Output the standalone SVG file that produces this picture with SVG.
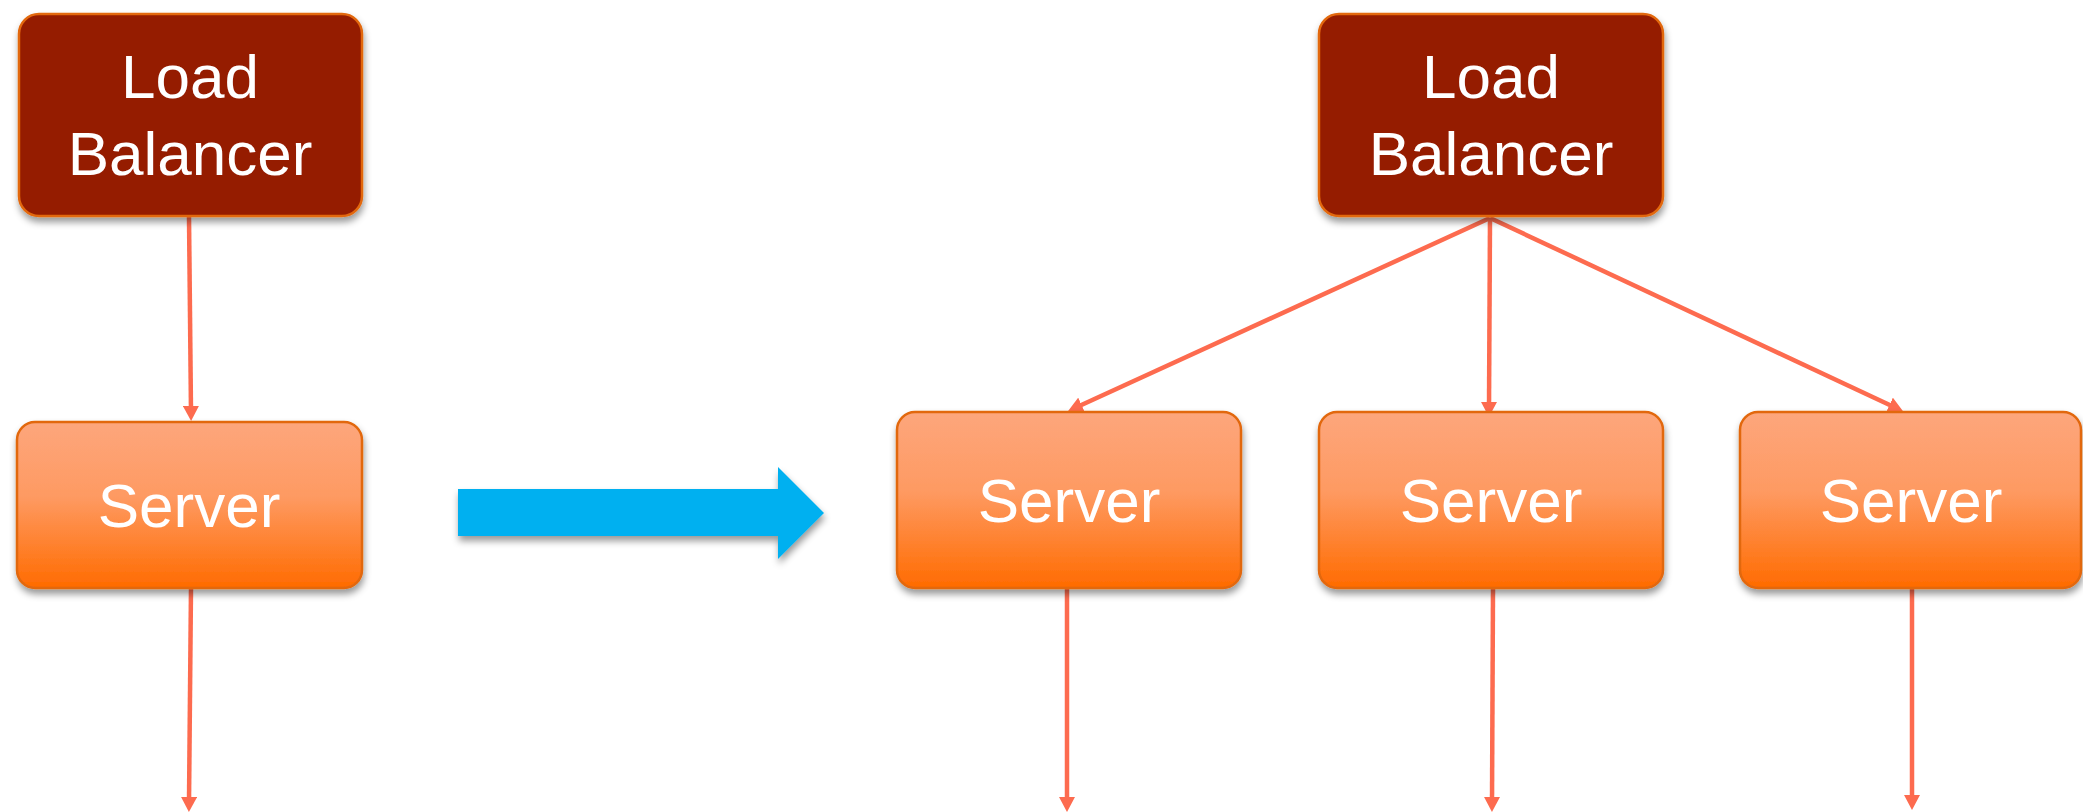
<svg xmlns="http://www.w3.org/2000/svg" width="2083" height="812" viewBox="0 0 2083 812">
  <defs>
    <linearGradient id="srvGrad" x1="0" y1="0" x2="0" y2="1">
      <stop offset="0" stop-color="#fda67c"/>
      <stop offset="0.45" stop-color="#fe9a62"/>
      <stop offset="1" stop-color="#ff6b00"/>
    </linearGradient>
    <filter id="shadow" x="-10%" y="-10%" width="125%" height="135%">
      <feDropShadow dx="1" dy="5" stdDeviation="3.5" flood-color="#000" flood-opacity="0.4"/>
    </filter>
    <marker id="ah" viewBox="0 0 15 16" refX="5" refY="8" markerWidth="15" markerHeight="16" markerUnits="userSpaceOnUse" orient="auto">
      <path d="M0,0 L15,8 L0,16 z" fill="#fd6b4f"/>
    </marker>
    <style>
      .lb { fill: #951c03; stroke: #e2680e; stroke-width: 2.5; }
      .srv { fill: url(#srvGrad); stroke: #e2680e; stroke-width: 2.5; }
      .lbl { font-family: "Liberation Sans", Arial, sans-serif; font-size: 62px; fill: #ffffff; text-anchor: middle; }
      .conn { stroke: #fd6b4f; stroke-width: 4.5; fill: none; marker-end: url(#ah); }
    </style>
  </defs>

  <g id="connectors">
    <line class="conn" x1="189" y1="217" x2="191" y2="411"/>
    <line class="conn" x1="191" y1="588" x2="189" y2="802"/>
    <line class="conn" x1="1490" y1="218" x2="1077" y2="407"/>
    <line class="conn" x1="1490" y1="218" x2="1489" y2="407"/>
    <line class="conn" x1="1490" y1="218" x2="1894" y2="407"/>
    <line class="conn" x1="1067" y1="588" x2="1067" y2="802"/>
    <line class="conn" x1="1493" y1="588" x2="1492" y2="802"/>
    <line class="conn" x1="1912" y1="588" x2="1912" y2="800"/>
  </g>

  <g id="transition-arrow" filter="url(#shadow)">
    <polygon points="458,489 778,489 778,467 824,513 778,559 778,536 458,536" fill="#00b0f0"/>
  </g>

  <g id="lb-left" filter="url(#shadow)">
    <rect class="lb" x="19" y="14" width="343" height="202" rx="20" ry="20"/>
    <text class="lbl" x="190" y="98">Load</text>
    <text class="lbl" x="190" y="175">Balancer</text>
  </g>

  <g id="server-left" filter="url(#shadow)">
    <rect class="srv" x="17" y="422" width="345" height="166" rx="18" ry="18"/>
    <text class="lbl" x="189" y="527">Server</text>
  </g>

  <g id="lb-right" filter="url(#shadow)">
    <rect class="lb" x="1319" y="14" width="344" height="202" rx="20" ry="20"/>
    <text class="lbl" x="1491" y="98">Load</text>
    <text class="lbl" x="1491" y="175">Balancer</text>
  </g>

  <g id="server-right-1" filter="url(#shadow)">
    <rect class="srv" x="897" y="412" width="344" height="176" rx="18" ry="18"/>
    <text class="lbl" x="1069" y="522">Server</text>
  </g>

  <g id="server-right-2" filter="url(#shadow)">
    <rect class="srv" x="1319" y="412" width="344" height="176" rx="18" ry="18"/>
    <text class="lbl" x="1491" y="522">Server</text>
  </g>

  <g id="server-right-3" filter="url(#shadow)">
    <rect class="srv" x="1740" y="412" width="341" height="176" rx="18" ry="18"/>
    <text class="lbl" x="1911" y="522">Server</text>
  </g>
</svg>
